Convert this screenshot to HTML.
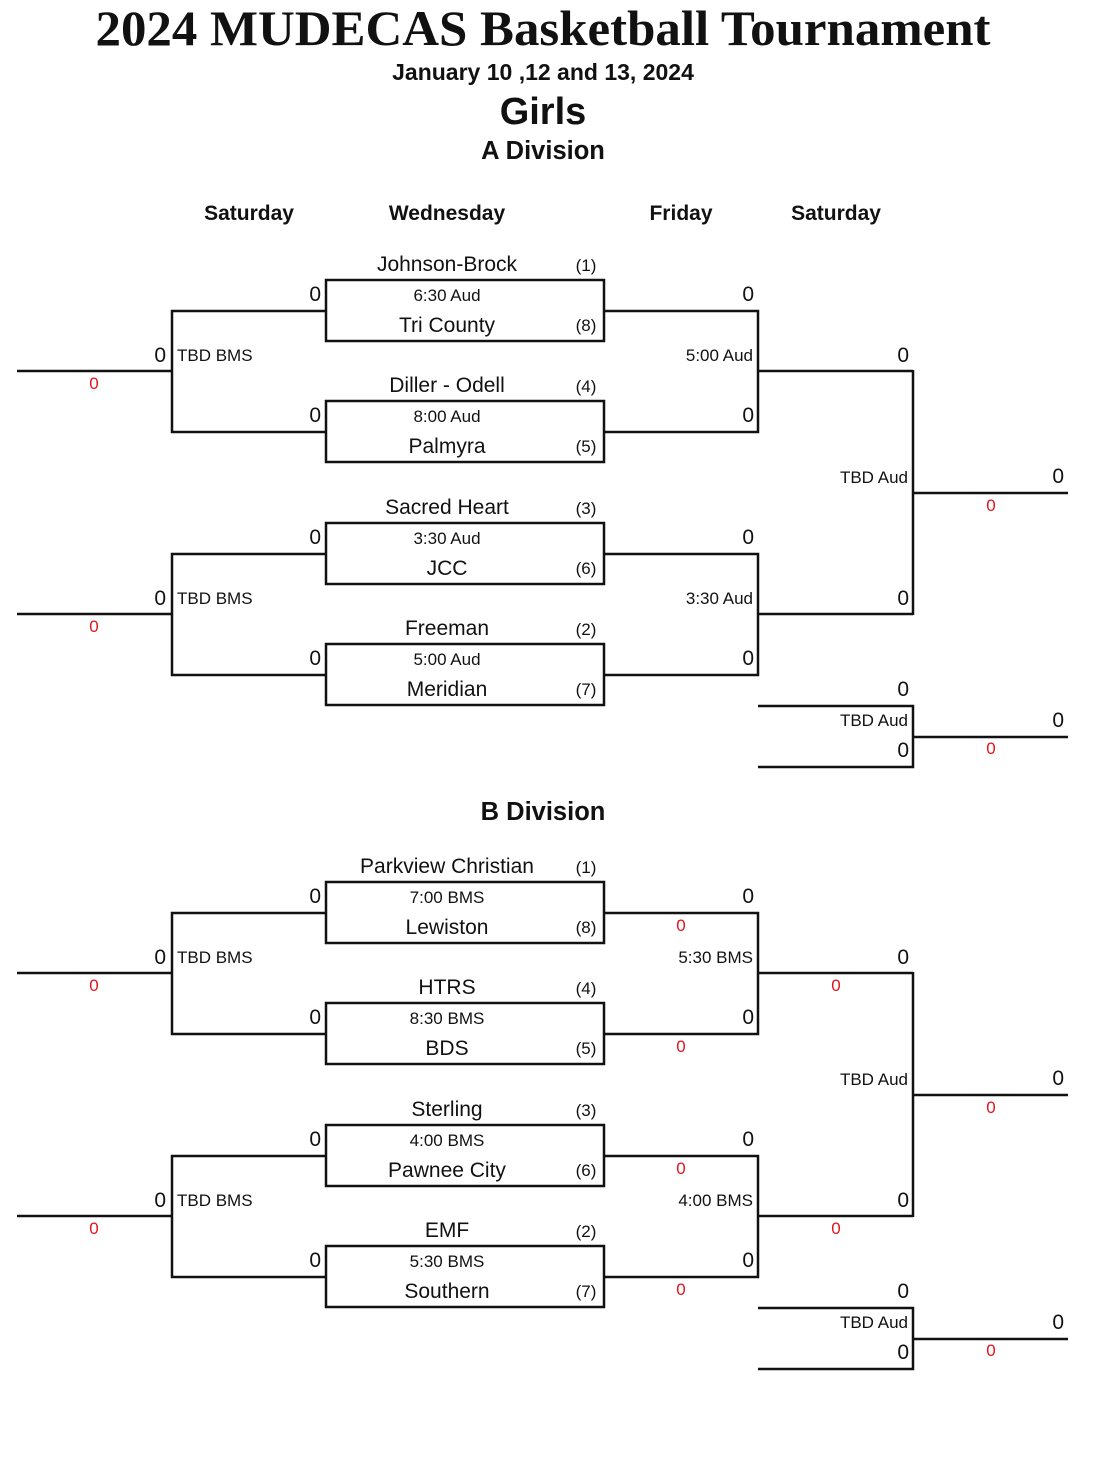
<!DOCTYPE html>
<html><head><meta charset="utf-8"><style>
html,body{margin:0;padding:0;background:#fff;}
svg{display:block;}
text{font-family:"Liberation Sans",sans-serif;fill:#111;}
.t{font-size:21px;text-anchor:middle;}
.tm{font-size:17px;text-anchor:middle;}
.sd{font-size:17px;text-anchor:middle;}
.sc{font-size:21px;text-anchor:end;}
.lb{font-size:17px;}
.lbe{font-size:17px;text-anchor:end;}
.r{font-size:17px;fill:#e0141e;text-anchor:middle;}
.h{font-size:21px;font-weight:bold;text-anchor:middle;}
line,rect,polyline{stroke:#111;stroke-width:2.5;fill:none;}
</style></head><body>
<svg width="1109" height="1460" viewBox="0 0 1109 1460" xmlns="http://www.w3.org/2000/svg">
<text x="543" y="45" style="font-family:'Liberation Serif',serif;font-weight:bold;font-size:50px;text-anchor:middle" textLength="895" lengthAdjust="spacingAndGlyphs">2024 MUDECAS Basketball Tournament</text>
<text x="543" y="80" style="font-weight:bold;font-size:23px;text-anchor:middle">January 10 ,12 and 13, 2024</text>
<text x="543" y="124" style="font-weight:bold;font-size:38px;text-anchor:middle">Girls</text>
<text x="543" y="159" style="font-weight:bold;font-size:25.5px;text-anchor:middle">A Division</text>
<text class="h" x="249" y="220">Saturday</text>
<text class="h" x="447" y="220">Wednesday</text>
<text class="h" x="681" y="220">Friday</text>
<text class="h" x="836" y="220">Saturday</text>
<text x="543" y="820" style="font-weight:bold;font-size:25.5px;text-anchor:middle">B Division</text>

<g>
<polyline points="326,311 172,311 172,432 326,432"/><line x1="17" y1="371" x2="172" y2="371"/>
<rect x="326" y="280" width="278" height="61"/><rect x="326" y="401" width="278" height="61"/>
<polyline points="604,311 758,311 758,432 604,432"/><line x1="758" y1="371" x2="913" y2="371"/>
<text class="t" x="447" y="271">Johnson-Brock</text><text class="sd" x="586" y="271">(1)</text>
<text class="tm" x="447" y="301">6:30 Aud</text>
<text class="t" x="447" y="332">Tri County</text><text class="sd" x="586" y="331">(8)</text>
<text class="t" x="447" y="392">Diller - Odell</text><text class="sd" x="586" y="392">(4)</text>
<text class="tm" x="447" y="422">8:00 Aud</text>
<text class="t" x="447" y="453">Palmyra</text><text class="sd" x="586" y="452">(5)</text>
<text class="sc" x="321" y="301">0</text><text class="sc" x="321" y="422">0</text>
<text class="sc" x="166" y="362">0</text><text class="lb" x="177" y="361">TBD BMS</text><text class="r" x="94" y="389">0</text>
<text class="sc" x="754" y="301">0</text><text class="sc" x="754" y="422">0</text><text class="lbe" x="753" y="361">5:00 Aud</text>
</g>
<g transform="translate(0,243)">
<polyline points="326,311 172,311 172,432 326,432"/><line x1="17" y1="371" x2="172" y2="371"/>
<rect x="326" y="280" width="278" height="61"/><rect x="326" y="401" width="278" height="61"/>
<polyline points="604,311 758,311 758,432 604,432"/><line x1="758" y1="371" x2="913" y2="371"/>
<text class="t" x="447" y="271">Sacred Heart</text><text class="sd" x="586" y="271">(3)</text>
<text class="tm" x="447" y="301">3:30 Aud</text>
<text class="t" x="447" y="332">JCC</text><text class="sd" x="586" y="331">(6)</text>
<text class="t" x="447" y="392">Freeman</text><text class="sd" x="586" y="392">(2)</text>
<text class="tm" x="447" y="422">5:00 Aud</text>
<text class="t" x="447" y="453">Meridian</text><text class="sd" x="586" y="452">(7)</text>
<text class="sc" x="321" y="301">0</text><text class="sc" x="321" y="422">0</text>
<text class="sc" x="166" y="362">0</text><text class="lb" x="177" y="361">TBD BMS</text><text class="r" x="94" y="389">0</text>
<text class="sc" x="754" y="301">0</text><text class="sc" x="754" y="422">0</text><text class="lbe" x="753" y="361">3:30 Aud</text>
</g>
<g>
<line x1="913" y1="370" x2="913" y2="615"/><line x1="913" y1="493" x2="1068" y2="493"/>
<text class="sc" x="909" y="362">0</text><text class="sc" x="909" y="605">0</text>
<text class="lbe" x="908" y="483">TBD Aud</text><text class="sc" x="1064" y="483">0</text><text class="r" x="991" y="511">0</text>
<polyline points="758,706 913,706 913,767 758,767"/><line x1="913" y1="737" x2="1068" y2="737"/>
<text class="sc" x="909" y="696">0</text><text class="lbe" x="908" y="726">TBD Aud</text><text class="sc" x="909" y="757">0</text>
<text class="sc" x="1064" y="727">0</text><text class="r" x="991" y="754">0</text>
</g>

<g transform="translate(0,602)">
<polyline points="326,311 172,311 172,432 326,432"/><line x1="17" y1="371" x2="172" y2="371"/>
<rect x="326" y="280" width="278" height="61"/><rect x="326" y="401" width="278" height="61"/>
<polyline points="604,311 758,311 758,432 604,432"/><line x1="758" y1="371" x2="913" y2="371"/>
<text class="t" x="447" y="271">Parkview Christian</text><text class="sd" x="586" y="271">(1)</text>
<text class="tm" x="447" y="301">7:00 BMS</text>
<text class="t" x="447" y="332">Lewiston</text><text class="sd" x="586" y="331">(8)</text>
<text class="t" x="447" y="392">HTRS</text><text class="sd" x="586" y="392">(4)</text>
<text class="tm" x="447" y="422">8:30 BMS</text>
<text class="t" x="447" y="453">BDS</text><text class="sd" x="586" y="452">(5)</text>
<text class="sc" x="321" y="301">0</text><text class="sc" x="321" y="422">0</text>
<text class="sc" x="166" y="362">0</text><text class="lb" x="177" y="361">TBD BMS</text><text class="r" x="94" y="389">0</text>
<text class="sc" x="754" y="301">0</text><text class="sc" x="754" y="422">0</text><text class="lbe" x="753" y="361">5:30 BMS</text>
<text class="r" x="681" y="329">0</text><text class="r" x="681" y="450">0</text><text class="r" x="836" y="389">0</text>
</g>
<g transform="translate(0,845)">
<polyline points="326,311 172,311 172,432 326,432"/><line x1="17" y1="371" x2="172" y2="371"/>
<rect x="326" y="280" width="278" height="61"/><rect x="326" y="401" width="278" height="61"/>
<polyline points="604,311 758,311 758,432 604,432"/><line x1="758" y1="371" x2="913" y2="371"/>
<text class="t" x="447" y="271">Sterling</text><text class="sd" x="586" y="271">(3)</text>
<text class="tm" x="447" y="301">4:00 BMS</text>
<text class="t" x="447" y="332">Pawnee City</text><text class="sd" x="586" y="331">(6)</text>
<text class="t" x="447" y="392">EMF</text><text class="sd" x="586" y="392">(2)</text>
<text class="tm" x="447" y="422">5:30 BMS</text>
<text class="t" x="447" y="453">Southern</text><text class="sd" x="586" y="452">(7)</text>
<text class="sc" x="321" y="301">0</text><text class="sc" x="321" y="422">0</text>
<text class="sc" x="166" y="362">0</text><text class="lb" x="177" y="361">TBD BMS</text><text class="r" x="94" y="389">0</text>
<text class="sc" x="754" y="301">0</text><text class="sc" x="754" y="422">0</text><text class="lbe" x="753" y="361">4:00 BMS</text>
<text class="r" x="681" y="329">0</text><text class="r" x="681" y="450">0</text><text class="r" x="836" y="389">0</text>
</g>
<g transform="translate(0,602)">
<line x1="913" y1="370" x2="913" y2="615"/><line x1="913" y1="493" x2="1068" y2="493"/>
<text class="sc" x="909" y="362">0</text><text class="sc" x="909" y="605">0</text>
<text class="lbe" x="908" y="483">TBD Aud</text><text class="sc" x="1064" y="483">0</text><text class="r" x="991" y="511">0</text>
<polyline points="758,706 913,706 913,767 758,767"/><line x1="913" y1="737" x2="1068" y2="737"/>
<text class="sc" x="909" y="696">0</text><text class="lbe" x="908" y="726">TBD Aud</text><text class="sc" x="909" y="757">0</text>
<text class="sc" x="1064" y="727">0</text><text class="r" x="991" y="754">0</text>
</g>
</svg>
</body></html>
